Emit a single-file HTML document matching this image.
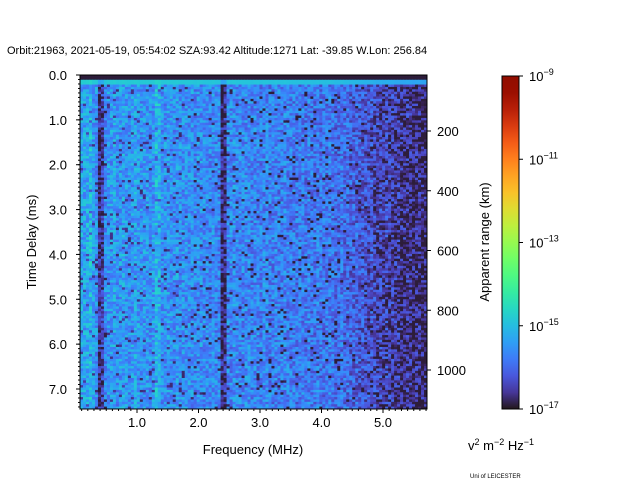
<!DOCTYPE html>
<html><head><meta charset="utf-8"><style>
body{margin:0;background:#fff;}
svg text{font-family:"Liberation Sans","DejaVu Sans",sans-serif;fill:#000;}
</style></head><body>
<svg id="c" width="640" height="480" xmlns="http://www.w3.org/2000/svg">
<defs><linearGradient id="cbg" x1="0" y1="1" x2="0" y2="0"></linearGradient></defs>
<text x="7" y="54" font-size="11">Orbit:21963, 2021-05-19, 05:54:02 SZA:93.42 Altitude:1271 Lat: -39.85 W.Lon: 256.84</text>
<g id="heat"></g>
<rect x="80" y="75" width="347" height="334" fill="none" stroke="#000" stroke-width="1"/>
<g id="axes"></g>
<text x="253" y="454" font-size="13" text-anchor="middle">Frequency (MHz)</text>
<text transform="translate(36,242) rotate(-90)" font-size="13" text-anchor="middle">Time Delay (ms)</text>
<text transform="translate(489,242) rotate(-90)" font-size="13" text-anchor="middle">Apparent range (km)</text>
<rect x="502" y="76" width="17" height="333" fill="url(#cbg)" stroke="#000" stroke-width="1"/>
<text x="468" y="450" font-size="13">v<tspan font-size="9" dy="-5">2</tspan><tspan dy="5"> m</tspan><tspan font-size="9" dy="-5">−2</tspan><tspan dy="5"> Hz</tspan><tspan font-size="9" dy="-5">−1</tspan></text>
<text x="470" y="478" font-size="6">Uni of LEICESTER</text>
</svg>
<script>
// column mean log10 intensity (frequency profile), 116 columns across 0.07–5.72 MHz
const colProfile=[-15.4,-15.4,-15.3,-15.1,-15.5,-15.6,-16.7,-16.5,-15.7,-15.5,-15.5,-15.4,-15.6,-15.5,-15.4,-15.5,-15.6,-15.5,-15.4,-15.5,-15.6,-15.5,-15.5,-15.6,-15.5,-15.1,-15.2,-15.6,-15.6,-15.5,-15.6,-15.6,-15.5,-15.6,-15.6,-15.6,-15.6,-15.6,-15.7,-15.6,-15.6,-15.7,-15.7,-15.7,-15.6,-15.7,-15.7,-16.8,-16.7,-15.7,-15.7,-15.6,-15.7,-15.7,-15.7,-15.7,-15.7,-15.8,-15.7,-15.7,-15.8,-15.7,-15.7,-15.8,-15.8,-15.7,-15.8,-15.8,-15.7,-15.8,-15.8,-15.8,-15.9,-15.8,-15.8,-15.9,-15.8,-15.9,-15.9,-15.8,-15.9,-15.9,-15.9,-15.8,-15.9,-16.0,-16.0,-15.9,-16.0,-16.0,-16.1,-16.1,-16.1,-16.2,-16.2,-16.3,-16.3,-16.3,-16.4,-16.5,-16.4,-16.5,-16.4,-16.5,-16.5,-16.6,-16.6,-16.7,-16.7,-16.6,-16.7,-16.8,-16.7,-16.7,-16.8,-16.8];
const topRows=[-17,-17,-14.9,-14.9];
const xTicks=[1.0,2.0,3.0,4.0,5.0];
const yTicks=[0,1,2,3,4,5,6,7];
const rTicks=[200,400,600,800,1000];
const cbTicks=[-9,-11,-13,-15,-17];
const NS="http://www.w3.org/2000/svg";
const X0=80,X1=427,Y0=75,Y1=409;
const fx=f=>137+(f-1)*61.5;
const fy=t=>75+t*44.857;
const fr=k=>131+(k-200)*0.29875;
const fc=v=>409-(v+17)/8*333;
function turbo(t){t=Math.max(0,Math.min(1,t));
const r=0.13572138+t*(4.61539260+t*(-42.66032258+t*(132.13108234+t*(-152.94239396+t*59.28637943))));
const g=0.09140261+t*(2.19418839+t*(4.84296658+t*(-14.18503333+t*(4.27729857+t*2.82956604))));
const b=0.10667330+t*(12.64194608+t*(-60.58204836+t*(110.36276771+t*(-89.90310912+t*27.34824973))));
const c=x=>Math.round(Math.max(0,Math.min(1,x))*255);return `rgb(${c(r)},${c(g)},${c(b)})`;}
const col=v=>turbo(Math.max(0.01,(v+17)/8));
function hash(i,j){let h=(i*374761393+j*668265263)|0;h=(h^(h>>>13))*1274126177|0;return ((h^(h>>>16))>>>0)/4294967295;}
const heat=document.getElementById('heat');
const nc=colProfile.length,nr=140,cw=(X1-X0)/nc,rh=(Y1-Y0)/nr;
for(let j=0;j<nr;j++){for(let i=0;i<nc;i++){
 let v;
 if(j<topRows.length) v=topRows[j]+(topRows[j]>-16?(colProfile[i]+15.7)*0.4:0);
 else { const h=hash(i,j); v=colProfile[i]+(h-0.5)*1.2+(h<0.06?-0.6:0); }
 const r=document.createElementNS(NS,'rect');
 
 
 r.setAttribute('x',(X0+i*cw).toFixed(2));r.setAttribute('y',(Y0+j*rh).toFixed(2));
 r.setAttribute('width',(cw+0.4).toFixed(2));r.setAttribute('height',(rh+0.4).toFixed(2));
 r.setAttribute('fill',col(v));heat.appendChild(r);}}
const g=document.getElementById('cbg');
for(let k=0;k<=20;k++){const s=document.createElementNS(NS,'stop');s.setAttribute('offset',k/20);s.setAttribute('stop-color',turbo(k/20));g.appendChild(s);}
const ax=document.getElementById('axes');
function line(x1,y1,x2,y2,name){const l=document.createElementNS(NS,'line');
 
 
 l.setAttribute('x1',x1);l.setAttribute('y1',y1);l.setAttribute('x2',x2);l.setAttribute('y2',y2);l.setAttribute('stroke','#000');l.setAttribute('stroke-width',1);ax.appendChild(l);}
function text(x,y,s,anchor,name,size){const t=document.createElementNS(NS,'text');
 
 
 t.setAttribute('x',x);t.setAttribute('y',y);t.setAttribute('text-anchor',anchor);t.setAttribute('font-size',size||13);t.textContent=s;ax.appendChild(t);return t;}
xTicks.forEach(f=>{line(fx(f),Y1,fx(f),Y1+4,'x-tick');text(fx(f),Y1+18,f.toFixed(1),'middle','x-tick-label');});
for(let f=0.1;f<5.72;f+=0.1){const x=fx(f);if(x>=X0&&x<=X1)line(x,Y1,x,Y1+2,'x-minor-tick');}
yTicks.forEach(t=>{line(X0-4,fy(t),X0,fy(t),'y-tick');text(X0-13,fy(t)+5,t.toFixed(1),'end','y-tick-label');});
for(let t=0;t<7.45;t+=0.1){line(X0-2,fy(t),X0,fy(t),'y-minor-tick');}
rTicks.forEach(k=>{line(X1,fr(k),X1+4,fr(k),'right-tick');text(X1+10,fr(k)+5,String(k),'start','right-tick-label');});
cbTicks.forEach(v=>{line(519,fc(v),523,fc(v),'colorbar-tick');const t=text(529,fc(v)+5,'10','start','colorbar-tick-label');
 const s=document.createElementNS(NS,'tspan');s.setAttribute('font-size','9');s.setAttribute('dy','-6');s.textContent='−'+(-v);t.appendChild(s);});
</script>
</body></html>
